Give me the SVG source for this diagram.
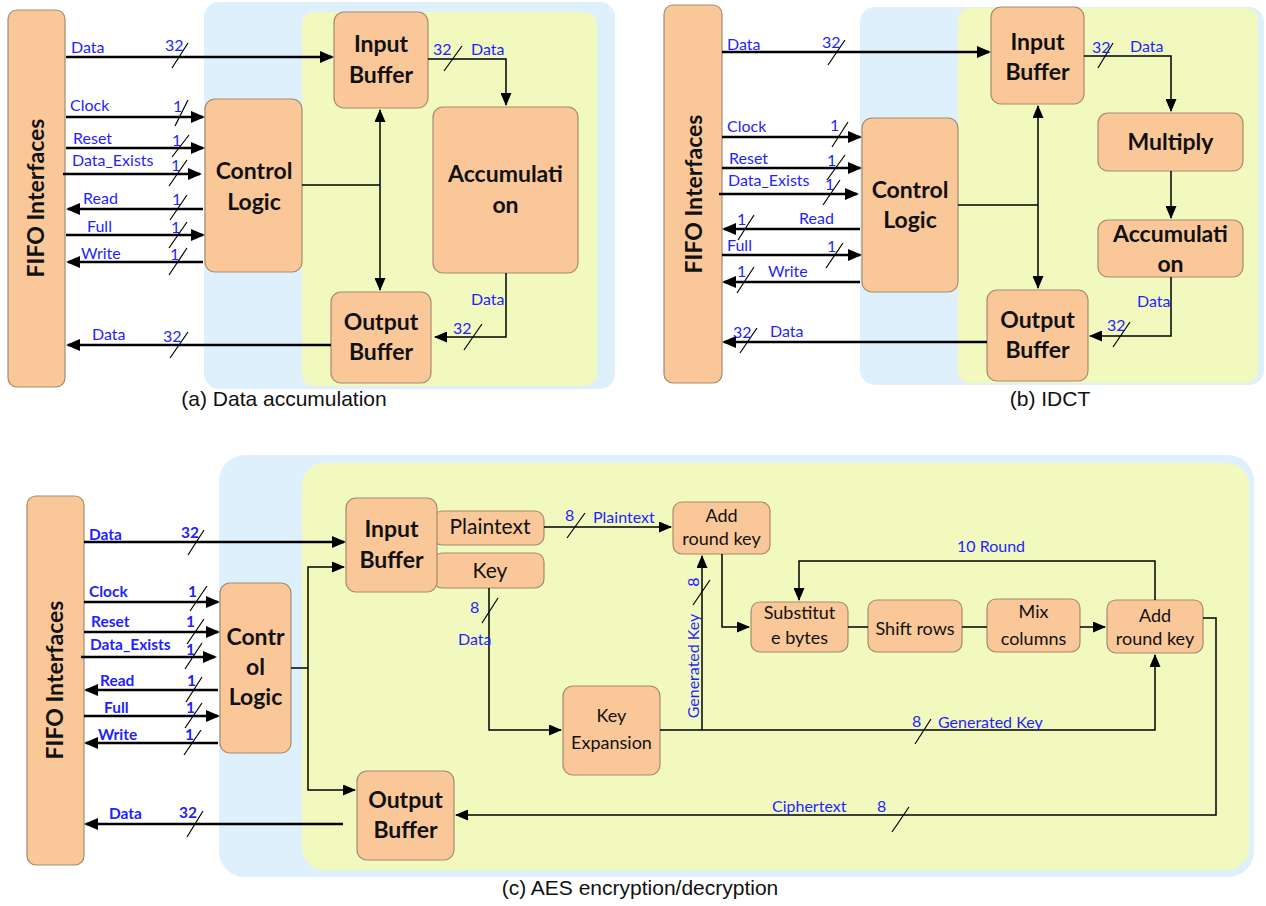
<svg xmlns="http://www.w3.org/2000/svg" width="1266" height="906" viewBox="0 0 1266 906">
<defs>
<marker id="a" viewBox="0 0 14 12" refX="12" refY="6" markerWidth="14" markerHeight="12" orient="auto-start-reverse" markerUnits="userSpaceOnUse"><path d="M0,0 L14,6 L0,12 z" fill="#000"/></marker>
<marker id="t" viewBox="0 0 13 11" refX="12" refY="5.5" markerWidth="13" markerHeight="11" orient="auto-start-reverse" markerUnits="userSpaceOnUse"><path d="M0,0 L13,5.5 L0,11 z" fill="#000"/></marker>
</defs>
<style>
.box{fill:#fac898;stroke:#a38b6f;stroke-width:1.2}
.blue{fill:#def0fc}
.yel{fill:#f1f9be}
.bt{font-family:Lato,"Open Sans",sans-serif;font-weight:bold;font-size:23px;text-anchor:middle;fill:#111}
.nt{font-family:Lato,"Open Sans",sans-serif;font-size:18px;text-anchor:middle;fill:#111}
.nt2{font-family:Lato,"Open Sans",sans-serif;font-size:21px;text-anchor:middle;fill:#111}
.lb{font-family:Lato,"Open Sans",sans-serif;font-size:16px;fill:#1f1fff}
.lbb{font-family:Lato,"Open Sans",sans-serif;font-size:15.5px;font-weight:bold;fill:#1f1fff}
.k{stroke:#000;stroke-width:2.5;fill:none}
.th{stroke:#000;stroke-width:1.5;fill:none}
.sl{stroke:#000;stroke-width:1.2;fill:none}
.cap{font-family:"Liberation Sans",Arial,sans-serif;font-size:21px;text-anchor:middle;fill:#111}
</style>

<!-- backgrounds -->
<g id="backgrounds">
<rect class="blue" x="204" y="2" width="411" height="387" rx="15"/>
<rect class="yel" x="302" y="12" width="295" height="374" rx="12"/>
<rect class="blue" x="860" y="7" width="404" height="378" rx="15"/>
<rect class="yel" x="958" y="8" width="300" height="375" rx="12"/>
<rect class="blue" x="219" y="455" width="1035" height="422" rx="26"/>
<rect class="yel" x="302" y="463" width="947" height="407" rx="22"/>
</g>

<!-- ===== Panel (a) ===== -->
<g id="a-fifo"><rect class="box" x="8" y="10" width="57" height="377" rx="9"/><text class="bt" transform="translate(44,198) rotate(-90)">FIFO Interfaces</text></g>
<g id="a-ctrl"><rect class="box" x="205" y="99" width="97" height="173" rx="10"/><text class="bt" x="254" y="179">Control</text><text class="bt" x="254" y="210">Logic</text></g>
<g id="a-in"><rect class="box" x="334" y="12" width="94" height="96" rx="10"/><text class="bt" x="381" y="52">Input</text><text class="bt" x="381" y="83">Buffer</text></g>
<g id="a-acc"><rect class="box" x="433" y="107" width="145" height="166" rx="10"/><text class="bt" x="505.5" y="182">Accumulati</text><text class="bt" x="505.5" y="213">on</text></g>
<g id="a-out"><rect class="box" x="331" y="292" width="100" height="91" rx="10"/><text class="bt" x="381" y="330">Output</text><text class="bt" x="381" y="360">Buffer</text></g>

<g id="a-connectors">
<path class="k" d="M66,57 H332" marker-end="url(#a)"/>
<path class="k" d="M66,117 H203" marker-end="url(#a)"/>
<path class="k" d="M66,148 H203" marker-end="url(#a)"/>
<path class="k" d="M63,174 H200" marker-end="url(#a)"/>
<path class="k" d="M203,209 H68" marker-end="url(#a)"/>
<path class="k" d="M66,235 H203" marker-end="url(#a)"/>
<path class="k" d="M203,262 H68" marker-end="url(#a)"/>
<path class="k" d="M331,345 H68" marker-end="url(#a)"/>
<path class="th" d="M302,185 H380"/>
<path class="th" d="M380,110 V290" marker-start="url(#t)" marker-end="url(#t)"/>
<path class="th" d="M428,59 H506 V105" marker-end="url(#t)"/>
<path class="th" d="M506,273 V337 H435" marker-end="url(#t)"/>
<path class="sl" d="M172,68 L188,43 M175,126 L188,100 M172,157 L189,135 M169,186 L187,160 M170,220 L187,195 M169,248 L187,222 M169,275 L187,248 M170,358 L188,332 M444,71 L462,46 M464,350 L482,324"/>
</g>
<g id="a-labels">
<text class="lb" x="71" y="53">Data</text><text class="lb" x="165" y="51">32</text>
<text class="lb" x="70" y="111">Clock</text><text class="lb" x="173" y="112">1</text>
<text class="lb" x="73" y="144">Reset</text><text class="lb" x="172" y="146">1</text>
<text class="lb" x="72" y="166">Data_Exists</text><text class="lb" x="171" y="171">1</text>
<text class="lb" x="83" y="204">Read</text><text class="lb" x="172" y="205">1</text>
<text class="lb" x="87" y="232">Full</text><text class="lb" x="171" y="233">1</text>
<text class="lb" x="81" y="259">Write</text><text class="lb" x="170" y="260">1</text>
<text class="lb" x="92" y="340">Data</text><text class="lb" x="163" y="342">32</text>
<text class="lb" x="433" y="55">32</text><text class="lb" x="471" y="55">Data</text>
<text class="lb" x="471" y="305">Data</text><text class="lb" x="453" y="334">32</text>
</g>
<text class="cap" x="284" y="406">(a) Data accumulation</text>

<!-- ===== Panel (b) ===== -->
<g id="b-fifo"><rect class="box" x="664" y="5" width="58" height="378" rx="9"/><text class="bt" transform="translate(702,194) rotate(-90)">FIFO Interfaces</text></g>
<g id="b-ctrl"><rect class="box" x="862" y="118" width="96" height="174" rx="10"/><text class="bt" x="910" y="198">Control</text><text class="bt" x="910" y="228">Logic</text></g>
<g id="b-in"><rect class="box" x="991" y="7" width="93" height="97" rx="10"/><text class="bt" x="1037.5" y="50">Input</text><text class="bt" x="1037.5" y="80">Buffer</text></g>
<g id="b-mul"><rect class="box" x="1098" y="113" width="145" height="58" rx="10"/><text class="bt" x="1170.5" y="150">Multiply</text></g>
<g id="b-acc"><rect class="box" x="1098" y="220" width="145" height="57" rx="10"/><text class="bt" x="1170.5" y="242">Accumulati</text><text class="bt" x="1170.5" y="272">on</text></g>
<g id="b-out"><rect class="box" x="987" y="290" width="101" height="91" rx="10"/><text class="bt" x="1037.5" y="328">Output</text><text class="bt" x="1037.5" y="358">Buffer</text></g>

<g id="b-connectors">
<path class="k" d="M722,52 H989" marker-end="url(#a)"/>
<path class="k" d="M722,137 H860" marker-end="url(#a)"/>
<path class="k" d="M722,168 H860" marker-end="url(#a)"/>
<path class="k" d="M719,194 H857" marker-end="url(#a)"/>
<path class="k" d="M860,229 H724" marker-end="url(#a)"/>
<path class="k" d="M722,255 H860" marker-end="url(#a)"/>
<path class="k" d="M860,282 H724" marker-end="url(#a)"/>
<path class="k" d="M987,342 H724" marker-end="url(#a)"/>
<path class="th" d="M958,205 H1038"/>
<path class="th" d="M1038,106 V288" marker-start="url(#t)" marker-end="url(#t)"/>
<path class="th" d="M1084,56 H1171 V111" marker-end="url(#t)"/>
<path class="th" d="M1171,171 V218" marker-end="url(#t)"/>
<path class="th" d="M1171,277 V336 H1090" marker-end="url(#t)"/>
<path class="sl" d="M828,65 L845,40 M832,147 L848,122 M827,180 L845,155 M823,205 L840,180 M738,240 L754,215 M826,268 L843,243 M737,293 L754,267 M740,353 L757,328 M1098,68 L1113,43 M1113,347 L1130,322"/>
</g>
<g id="b-labels">
<text class="lb" x="727" y="50">Data</text><text class="lb" x="822" y="48">32</text>
<text class="lb" x="727" y="132">Clock</text><text class="lb" x="830" y="131">1</text>
<text class="lb" x="729" y="164">Reset</text><text class="lb" x="827" y="166">1</text>
<text class="lb" x="728" y="186">Data_Exists</text><text class="lb" x="825" y="190">1</text>
<text class="lb" x="737" y="225">1</text><text class="lb" x="799" y="224">Read</text>
<text class="lb" x="727" y="251">Full</text><text class="lb" x="827" y="252">1</text>
<text class="lb" x="737" y="277">1</text><text class="lb" x="768" y="277">Write</text>
<text class="lb" x="733" y="338">32</text><text class="lb" x="770" y="337">Data</text>
<text class="lb" x="1092" y="53">32</text><text class="lb" x="1130" y="52">Data</text>
<text class="lb" x="1137" y="307">Data</text><text class="lb" x="1107" y="331">32</text>
</g>
<text class="cap" x="1050" y="406">(b) IDCT</text>

<!-- ===== Panel (c) ===== -->
<g id="c-fifo"><rect class="box" x="27" y="496" width="57" height="369" rx="9"/><text class="bt" transform="translate(63,680) rotate(-90)">FIFO Interfaces</text></g>
<g id="c-ctrl"><rect class="box" x="220" y="583" width="71" height="170" rx="10"/><text class="bt" x="255.5" y="645">Contr</text><text class="bt" x="255.5" y="675">ol</text><text class="bt" x="255.5" y="705">Logic</text></g>
<g id="c-plain"><rect class="box" x="433" y="511" width="111" height="34" rx="9"/><text class="nt2" x="490" y="534">Plaintext</text></g>
<g id="c-key"><rect class="box" x="433" y="553" width="111" height="35" rx="9"/><text class="nt2" x="490" y="578">Key</text></g>
<g id="c-in"><rect class="box" x="346" y="498" width="91" height="94" rx="10"/><text class="bt" x="391.5" y="537">Input</text><text class="bt" x="391.5" y="568">Buffer</text></g>
<g id="c-out"><rect class="box" x="357" y="771" width="97" height="89" rx="10"/><text class="bt" x="405.5" y="808">Output</text><text class="bt" x="405.5" y="838">Buffer</text></g>
<g id="c-ark1"><rect class="box" x="673" y="502" width="97" height="52" rx="9"/><text class="nt" x="721.5" y="522">Add</text><text class="nt" x="721.5" y="545">round key</text></g>
<g id="c-kexp"><rect class="box" x="563" y="686" width="97" height="89" rx="10"/><text class="nt" x="611.5" y="722">Key</text><text class="nt" x="611.5" y="749">Expansion</text></g>
<g id="c-sub"><rect class="box" x="751" y="602" width="97" height="50" rx="9"/><text class="nt" x="799.5" y="619">Substitut</text><text class="nt" x="799.5" y="644">e bytes</text></g>
<g id="c-shift"><rect class="box" x="868" y="600" width="94" height="52" rx="9"/><text class="nt" x="915" y="635">Shift rows</text></g>
<g id="c-mix"><rect class="box" x="987" y="599" width="93" height="53" rx="9"/><text class="nt" x="1033.5" y="618">Mix</text><text class="nt" x="1033.5" y="645">columns</text></g>
<g id="c-ark2"><rect class="box" x="1107" y="600" width="96" height="53" rx="9"/><text class="nt" x="1155" y="622">Add</text><text class="nt" x="1155" y="645">round key</text></g>

<g id="c-connectors">
<path class="k" d="M84,542 H344" marker-end="url(#a)"/>
<path class="k" d="M84,602 H218" marker-end="url(#a)"/>
<path class="k" d="M84,632 H218" marker-end="url(#a)"/>
<path class="k" d="M81,657 H215" marker-end="url(#a)"/>
<path class="k" d="M218,690 H86" marker-end="url(#a)"/>
<path class="k" d="M84,716 H218" marker-end="url(#a)"/>
<path class="k" d="M218,743 H86" marker-end="url(#a)"/>
<path class="k" d="M343,824 H86" marker-end="url(#a)"/>
<path class="th" d="M291,668 H308"/>
<path class="th" d="M344,567 H308 V790 H355" marker-start="url(#t)" marker-end="url(#t)"/>
<path class="th" d="M544,527 H671" marker-end="url(#t)"/>
<path class="th" d="M489,588 V730 H561" marker-end="url(#t)"/>
<path class="th" d="M660,730 H1155 V655" marker-end="url(#t)"/>
<path class="th" d="M702,730 V556" marker-end="url(#t)"/>
<path class="th" d="M722,554 V627 H749" marker-end="url(#t)"/>
<path class="th" d="M848,627 H868 M962,627 H987"/>
<path class="th" d="M1080,627 H1105" marker-end="url(#t)"/>
<path class="th" d="M1155,600 V561 H799 V600" marker-end="url(#t)"/>
<path class="th" d="M1203,618 H1216 V815 H456" marker-end="url(#t)"/>
<path class="sl" d="M188,555 L204,530 M190,611 L207,586 M187,644 L204,619 M185,669 L202,643 M186,702 L202,677 M185,728 L202,703 M184,755 L201,730 M187,837 L203,811 M567,538 L585,513 M482,623 L498,598 M693,605 L710,580 M915,744 L931,719 M892,832 L909,807"/>
</g>
<g id="c-labels">
<text class="lbb" x="89" y="540">Data</text><text class="lbb" x="181" y="538">32</text>
<text class="lbb" x="89" y="597">Clock</text><text class="lbb" x="188" y="597">1</text>
<text class="lbb" x="91" y="627">Reset</text><text class="lbb" x="186" y="627">1</text>
<text class="lbb" x="90" y="650">Data_Exists</text><text class="lbb" x="186" y="655">1</text>
<text class="lbb" x="100" y="686">Read</text><text class="lbb" x="187" y="686">1</text>
<text class="lbb" x="104" y="713">Full</text><text class="lbb" x="186" y="713">1</text>
<text class="lbb" x="98" y="740">Write</text><text class="lbb" x="185" y="740">1</text>
<text class="lbb" x="109" y="819">Data</text><text class="lbb" x="179" y="818">32</text>
<text class="lb" x="565" y="521">8</text><text class="lb" x="593" y="523">Plaintext</text>
<text class="lb" x="470" y="613">8</text><text class="lb" x="458" y="645">Data</text>
<text class="lb" text-anchor="middle" transform="translate(699,666) rotate(-90)">Generated Key</text>
<text class="lb" text-anchor="middle" transform="translate(699,582) rotate(-90)">8</text>
<text class="lb" x="957" y="552">10 Round</text>
<text class="lb" x="912" y="727">8</text><text class="lb" x="938" y="728">Generated Key</text>
<text class="lb" x="772" y="812">Ciphertext</text><text class="lb" x="877" y="812">8</text>
</g>
<text class="cap" x="640" y="895">(c) AES encryption/decryption</text>
</svg>
